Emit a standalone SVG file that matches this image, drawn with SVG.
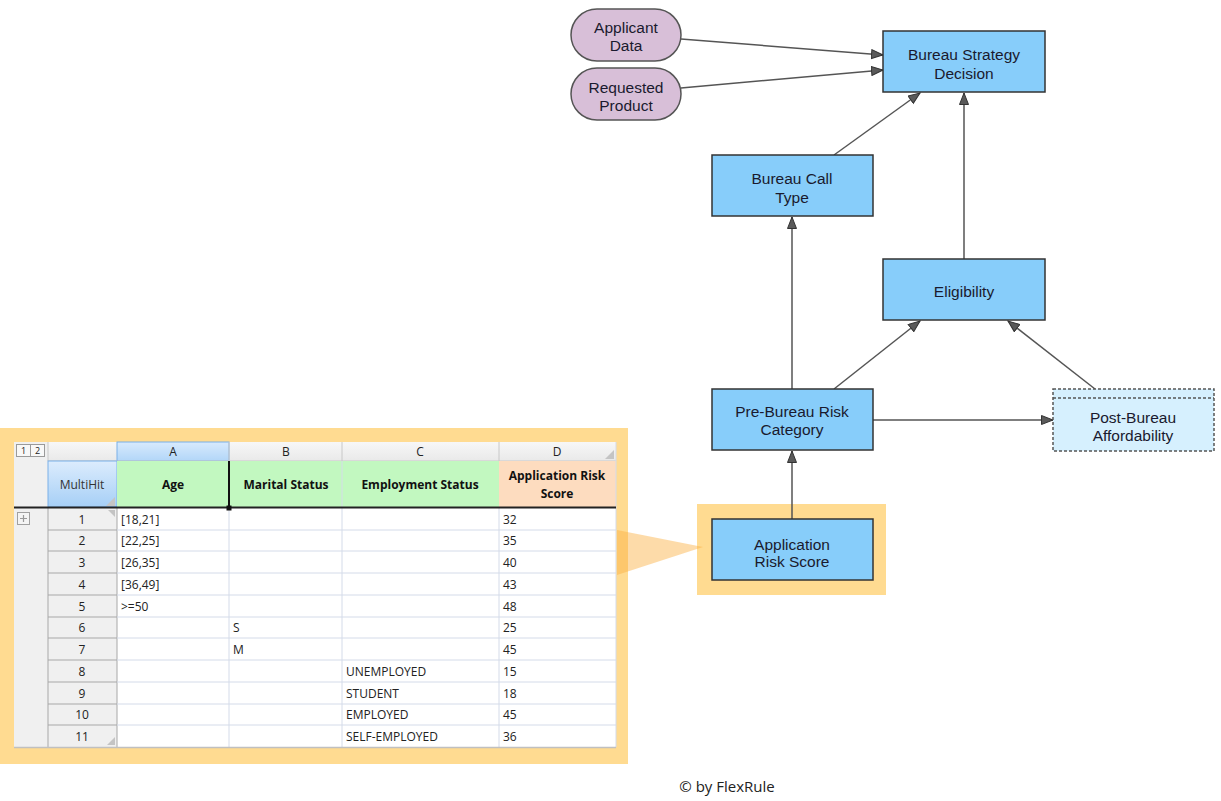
<svg xmlns="http://www.w3.org/2000/svg" width="1221" height="801" viewBox="0 0 1221 801">
<style>
.node rect.box{fill:#87cdfa;stroke:#333;stroke-width:1.5}
.pill{fill:#d8bfd8;stroke:#555;stroke-width:1.5}
.lbl{font-family:"Liberation Sans",Arial,sans-serif;font-size:15.5px;fill:#1a1a2e;text-anchor:middle}
.conn line{stroke:#555;stroke-width:1.5;fill:none}
.hl{fill:#ffdb91}
.t{font-family:"Open Sans","Noto Sans",sans-serif;font-size:12px;fill:#222}
.tb{font-family:"Open Sans","Noto Sans",sans-serif;font-size:12px;font-weight:bold;fill:#111;text-anchor:middle}
.tc{font-family:"Open Sans","Noto Sans",sans-serif;font-size:12px;fill:#222;text-anchor:middle}
.grid{stroke:#d4dbe9;stroke-width:1}
.rh{stroke:#a8a8a8;stroke-width:1}
.grip{fill:#c4c4c4}
</style>
<defs>
<marker id="arr" markerUnits="userSpaceOnUse" markerWidth="14" markerHeight="12" refX="12" refY="5" orient="auto">
<path d="M0.5,0.5 L12,5 L0.5,9.5 z" fill="#5a5a5a" stroke="#333" stroke-width="1"/>
</marker>
<linearGradient id="gblue" x1="0" y1="0" x2="0" y2="1">
<stop offset="0" stop-color="#dcecfd"/><stop offset="1" stop-color="#a6cff6"/>
</linearGradient>
<linearGradient id="gblue2" x1="0" y1="0" x2="0" y2="1">
<stop offset="0" stop-color="#d8eafd"/><stop offset="1" stop-color="#b2d6f8"/>
</linearGradient>
<linearGradient id="ggrey" x1="0" y1="0" x2="0" y2="1">
<stop offset="0" stop-color="#f7f7f7"/><stop offset="1" stop-color="#e9e9e9"/>
</linearGradient>
</defs>
<rect width="1221" height="801" fill="#fff"/>

<g id="decision-table">
<rect class="hl" x="0" y="428" width="628" height="336"/>
<rect x="14" y="442" width="602" height="305" fill="#fff"/>
<rect x="14" y="442" width="34" height="305" fill="#f0f0f0"/>
<rect x="48" y="442" width="568" height="19" fill="url(#ggrey)"/>
<rect x="117" y="442" width="112" height="19" fill="url(#gblue2)" stroke="#7ab0e8" stroke-width="1"/>
<line x1="48" y1="461" x2="616" y2="461" stroke="#c8c8c8"/>
<line x1="48" y1="442" x2="48" y2="461" stroke="#c8c8c8"/>
<line x1="342" y1="442" x2="342" y2="461" stroke="#c8c8c8"/>
<line x1="499" y1="442" x2="499" y2="461" stroke="#c8c8c8"/>
<line x1="229" y1="442" x2="229" y2="461" stroke="#c8c8c8"/>
<rect x="16.5" y="444.5" width="14" height="12" fill="#f8f8f8" stroke="#9a9a9a"/>
<rect x="30.5" y="444.5" width="14" height="12" fill="#f8f8f8" stroke="#9a9a9a"/>
<text class="tc" x="23.5" y="454" style="font-size:9px">1</text>
<text class="tc" x="37.5" y="454" style="font-size:9px">2</text>
<text class="tc" x="173" y="456">A</text>
<text class="tc" x="286" y="456">B</text>
<text class="tc" x="420" y="456">C</text>
<text class="tc" x="557" y="456">D</text>
<path class="grip" d="M614,450 L614,459 L605,459 z"/>
<rect x="48" y="461" width="69" height="46" fill="url(#gblue)" stroke="#7ab0e8" stroke-width="1"/>
<rect x="117" y="461" width="382" height="46" fill="#c2f8c0"/>
<rect x="499" y="461" width="117" height="46" fill="#fddcbf"/>
<path class="grip" d="M115,497 L115,506 L106,506 z"/>
<text class="tc" x="82" y="489" style="fill:#333">MultiHit</text>
<text class="tb" x="173" y="489">Age</text>
<text class="tb" x="286" y="489">Marital Status</text>
<text class="tb" x="420" y="489">Employment Status</text>
<text class="tb" x="557" y="480">Application Risk</text>
<text class="tb" x="557" y="498">Score</text>
<rect x="48" y="508" width="69" height="239" fill="#f0f0f0"/>
<g class="rh">
<line x1="48" y1="530" x2="117" y2="530"/><line x1="48" y1="551" x2="117" y2="551"/>
<line x1="48" y1="573" x2="117" y2="573"/><line x1="48" y1="595" x2="117" y2="595"/>
<line x1="48" y1="617" x2="117" y2="617"/><line x1="48" y1="638" x2="117" y2="638"/>
<line x1="48" y1="660" x2="117" y2="660"/><line x1="48" y1="682" x2="117" y2="682"/>
<line x1="48" y1="704" x2="117" y2="704"/><line x1="48" y1="725" x2="117" y2="725"/>
<line x1="48" y1="508" x2="48" y2="747"/><line x1="117" y1="508" x2="117" y2="747"/>
</g>
<g class="grid">
<line x1="117" y1="530" x2="616" y2="530"/><line x1="117" y1="551" x2="616" y2="551"/>
<line x1="117" y1="573" x2="616" y2="573"/><line x1="117" y1="595" x2="616" y2="595"/>
<line x1="117" y1="617" x2="616" y2="617"/><line x1="117" y1="638" x2="616" y2="638"/>
<line x1="117" y1="660" x2="616" y2="660"/><line x1="117" y1="682" x2="616" y2="682"/>
<line x1="117" y1="704" x2="616" y2="704"/><line x1="117" y1="725" x2="616" y2="725"/>
<line x1="229" y1="508" x2="229" y2="747"/><line x1="342" y1="461" x2="342" y2="747"/>
<line x1="499" y1="508" x2="499" y2="747"/><line x1="616" y1="442" x2="616" y2="747"/>
</g>
<line x1="14" y1="747.5" x2="616" y2="747.5" stroke="#c0c0c0" stroke-width="1.5"/>
<line x1="14" y1="507.5" x2="616" y2="507.5" stroke="#222" stroke-width="2"/>
<line x1="229" y1="461" x2="229" y2="508" stroke="#111" stroke-width="2"/>
<rect x="226.5" y="505.5" width="5" height="5" fill="#111"/>
<rect x="17.5" y="512.5" width="12" height="12" fill="#f4f4f4" stroke="#a0a0a0"/>
<path d="M20,518.5 H27 M23.5,515 V522" stroke="#999" stroke-width="1.2"/>
<path class="grip" d="M108,510 L115,510 L115,517 z"/>
<path class="grip" d="M115,737 L115,745 L107,745 z"/>
<text class="tc" x="82" y="524">1</text>
<text class="tc" x="82" y="545">2</text>
<text class="tc" x="82" y="567">3</text>
<text class="tc" x="82" y="589">4</text>
<text class="tc" x="82" y="611">5</text>
<text class="tc" x="82" y="632">6</text>
<text class="tc" x="82" y="654">7</text>
<text class="tc" x="82" y="676">8</text>
<text class="tc" x="82" y="698">9</text>
<text class="tc" x="82" y="719">10</text>
<text class="tc" x="82" y="741">11</text>
<text class="t" x="121" y="524">[18,21]</text>
<text class="t" x="121" y="545">[22,25]</text>
<text class="t" x="121" y="567">[26,35]</text>
<text class="t" x="121" y="589">[36,49]</text>
<text class="t" x="121" y="611">&gt;=50</text>
<text class="t" x="233" y="632">S</text>
<text class="t" x="233" y="654">M</text>
<text class="t" x="346" y="676">UNEMPLOYED</text>
<text class="t" x="346" y="698">STUDENT</text>
<text class="t" x="346" y="719">EMPLOYED</text>
<text class="t" x="346" y="741">SELF-EMPLOYED</text>
<text class="t" x="503" y="524">32</text>
<text class="t" x="503" y="545">35</text>
<text class="t" x="503" y="567">40</text>
<text class="t" x="503" y="589">43</text>
<text class="t" x="503" y="611">48</text>
<text class="t" x="503" y="632">25</text>
<text class="t" x="503" y="654">45</text>
<text class="t" x="503" y="676">15</text>
<text class="t" x="503" y="698">18</text>
<text class="t" x="503" y="719">45</text>
<text class="t" x="503" y="741">36</text>
</g>

<rect class="hl" x="697" y="504" width="189" height="91"/>
<path d="M617,530 L703,547 L617,575 z" fill="#fbb040" opacity="0.45"/>

<g id="connectors" class="conn">
<line x1="681" y1="39" x2="883" y2="55" marker-end="url(#arr)"/>
<line x1="681" y1="88" x2="883" y2="70" marker-end="url(#arr)"/>
<line x1="834" y1="155" x2="920" y2="93" marker-end="url(#arr)"/>
<line x1="964" y1="259" x2="964" y2="93" marker-end="url(#arr)"/>
<line x1="792" y1="389" x2="792" y2="217" marker-end="url(#arr)"/>
<line x1="834" y1="389" x2="920" y2="321" marker-end="url(#arr)"/>
<line x1="1095" y1="389" x2="1008" y2="321" marker-end="url(#arr)"/>
<line x1="873" y1="420" x2="1053" y2="420" marker-end="url(#arr)"/>
<line x1="792" y1="519" x2="792" y2="451" marker-end="url(#arr)"/>
</g>

<g id="applicant-data" class="node">
<rect class="pill" x="571" y="9" width="110" height="52" rx="26"/>
<text class="lbl" x="626" y="33">Applicant</text>
<text class="lbl" x="626" y="51">Data</text>
</g>
<g id="requested-product" class="node">
<rect class="pill" x="571" y="68" width="110" height="52" rx="26"/>
<text class="lbl" x="626" y="93">Requested</text>
<text class="lbl" x="626" y="111">Product</text>
</g>
<g id="bureau-strategy-decision" class="node">
<rect class="box" x="883" y="31" width="162" height="61"/>
<text class="lbl" x="964" y="60">Bureau Strategy</text>
<text class="lbl" x="964" y="79">Decision</text>
</g>
<g id="bureau-call-type" class="node">
<rect class="box" x="712" y="155" width="161" height="61"/>
<text class="lbl" x="792" y="184">Bureau Call</text>
<text class="lbl" x="792" y="203">Type</text>
</g>
<g id="eligibility" class="node">
<rect class="box" x="883" y="259" width="162" height="61"/>
<text class="lbl" x="964" y="297">Eligibility</text>
</g>
<g id="pre-bureau-risk-category" class="node">
<rect class="box" x="712" y="389" width="161" height="61"/>
<text class="lbl" x="792" y="417">Pre-Bureau Risk</text>
<text class="lbl" x="792" y="435">Category</text>
</g>
<g id="post-bureau-affordability" class="node">
<rect x="1053" y="389" width="161" height="62" fill="#d6f0fe" stroke="#555" stroke-width="1.5" stroke-dasharray="3,2"/>
<line x1="1053" y1="398" x2="1214" y2="398" stroke="#555" stroke-width="1.5" stroke-dasharray="3,2"/>
<text class="lbl" x="1133" y="423">Post-Bureau</text>
<text class="lbl" x="1133" y="441">Affordability</text>
</g>
<g id="application-risk-score" class="node">
<rect class="box" x="712" y="519" width="161" height="61"/>
<text class="lbl" x="792" y="550">Application</text>
<text class="lbl" x="792" y="567">Risk Score</text>
</g>

<text x="727" y="792" style="font-family:'Open Sans','Noto Sans',sans-serif;font-size:15px;fill:#222;text-anchor:middle">© by FlexRule</text>
</svg>
